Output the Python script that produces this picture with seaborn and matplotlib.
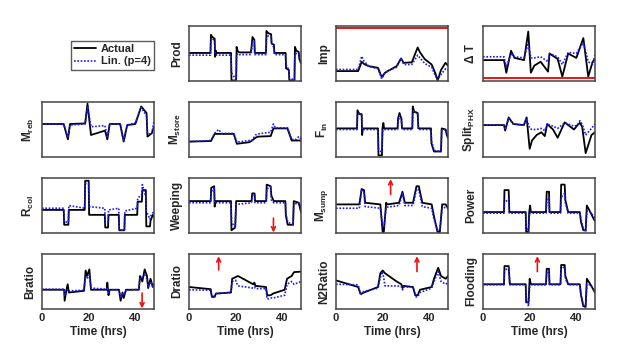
import matplotlib
matplotlib.use("Agg")
import matplotlib.pyplot as plt
import seaborn as sns
from matplotlib.lines import Line2D

# --- dados (eixo y normalizado 0..1, tempo em horas) ---
prod_t = [0, 9.2, 9.4, 10, 11.0, 11.2, 11.5, 11.8, 18.0, 18.2, 20.2, 20.4, 20.8, 21.5,
          26.5, 26.7, 27.2, 28.0, 28.2, 33.0, 33.2, 34.0, 35.2, 35.4, 36.4, 36.6,
          41.4, 41.6, 42.8, 43.0, 45.2, 45.4, 46, 47.0, 47.3, 48]
prod_act = [0.51, 0.51, 0.84, 0.8, 0.77, 0.44, 0.55, 0.51, 0.51, 0.01, 0.01, 0.62, 0.55, 0.52,
            0.52, 0.58, 0.8, 0.75, 0.51, 0.51, 0.91, 0.87, 0.85, 0.68, 0.66, 0.51,
            0.51, 0.23, 0.2, 0.01, 0.01, 0.62, 0.55, 0.53, 0.4, 0.32]
prod_lin = [0.47, 0.47, 0.75, 0.78, 0.72, 0.5, 0.5, 0.47, 0.47, 0.15, 0.02, 0.45, 0.5, 0.48,
            0.48, 0.52, 0.72, 0.72, 0.48, 0.48, 0.8, 0.82, 0.8, 0.7, 0.6, 0.48,
            0.48, 0.3, 0.2, 0.05, 0.02, 0.5, 0.5, 0.5, 0.42, 0.32]

imp_t = [0, 9.5, 11, 12, 14, 18, 19.6, 21, 23, 26, 27.9, 29, 32.5, 35, 36, 38, 41, 42.5, 43.6, 45, 46.9, 48]
imp_act = [0.18, 0.18, 0.35, 0.31, 0.27, 0.24, 0.07, 0.15, 0.2, 0.27, 0.41, 0.33, 0.34, 0.61, 0.52, 0.4, 0.3, 0.15, 0.01, 0.2, 0.33, 0.28]
imp_lin = [0.21, 0.21, 0.45, 0.36, 0.27, 0.22, 0.04, 0.15, 0.2, 0.25, 0.42, 0.3, 0.3, 0.47, 0.42, 0.32, 0.25, 0.1, 0.02, 0.12, 0.22, 0.2]

dt_t = [0, 9, 10, 12, 13.5, 17.6, 19.4, 20.5, 22, 24.7, 27.9, 28.5, 32, 34, 36.5, 40, 43, 45.1, 47, 48]
dt_act = [0.38, 0.38, 0.15, 0.55, 0.42, 0.38, 0.9, 0.15, 0.28, 0.35, 0.17, 0.5, 0.4, 0.08, 0.5, 0.42, 0.78, 0.08, 0.35, 0.4]
dt_lin = [0.44, 0.44, 0.25, 0.5, 0.44, 0.42, 0.68, 0.42, 0.42, 0.44, 0.35, 0.5, 0.44, 0.3, 0.52, 0.5, 0.7, 0.35, 0.3, 0.48]

mreb_t = [0, 9.3, 11.1, 12, 18.5, 19.5, 21, 27, 28, 29, 33.5, 35, 36.5, 40, 42.5, 44.8, 45.2, 47, 48]
mreb_act = [0.6, 0.6, 0.32, 0.6, 0.61, 0.97, 0.4, 0.48, 0.32, 0.6, 0.6, 0.28, 0.58, 0.6, 0.92, 0.8, 0.37, 0.43, 0.55]
mreb_lin = [0.6, 0.6, 0.35, 0.58, 0.6, 0.92, 0.55, 0.57, 0.35, 0.6, 0.6, 0.3, 0.58, 0.62, 0.9, 0.75, 0.42, 0.42, 0.65]

mstore_t = [0, 9.4, 11, 12.7, 14, 19.2, 20.5, 26, 27, 28.5, 29.5, 35, 36.2, 37, 42.2, 44, 46, 47, 48]
mstore_act = [0.28, 0.29, 0.42, 0.42, 0.42, 0.42, 0.24, 0.27, 0.3, 0.35, 0.37, 0.38, 0.52, 0.52, 0.52, 0.3, 0.3, 0.3, 0.3]
mstore_lin = [0.28, 0.3, 0.43, 0.5, 0.43, 0.43, 0.27, 0.3, 0.3, 0.4, 0.42, 0.45, 0.6, 0.53, 0.53, 0.32, 0.32, 0.37, 0.33]

fin_t = [0, 9.0, 9.2, 10, 11, 11.2, 11.5, 18, 18.2, 19.7, 19.9, 20.3, 20.6,
         26.4, 26.6, 27.2, 28, 28.3, 32.7, 32.9, 33.5, 35, 35.3,
         40.7, 40.9, 42, 45, 45.3, 47, 47.5, 48]
fin_act = [0.52, 0.52, 0.85, 0.78, 0.78, 0.4, 0.52, 0.52, 0.03, 0.03, 0.52, 0.62, 0.52,
           0.52, 0.7, 0.8, 0.7, 0.52, 0.52, 0.92, 0.82, 0.8, 0.52,
           0.52, 0.25, 0.1, 0.1, 0.52, 0.5, 0.4, 0.35]
fin_lin = [0.5, 0.5, 0.75, 0.8, 0.76, 0.5, 0.5, 0.5, 0.15, 0.08, 0.45, 0.5, 0.5,
           0.5, 0.62, 0.75, 0.72, 0.5, 0.5, 0.82, 0.85, 0.78, 0.5,
           0.5, 0.3, 0.12, 0.1, 0.48, 0.5, 0.45, 0.38]

split_t = [0, 9, 9.5, 11, 13, 17.5, 18.7, 20, 21, 23, 25, 26.5, 27.5, 30, 32, 35, 39, 40.5, 41.5, 42.5, 44, 46.5, 48]
split_act = [0.58, 0.58, 0.48, 0.72, 0.6, 0.58, 0.72, 0.15, 0.3, 0.4, 0.45, 0.38, 0.6, 0.5, 0.35, 0.63, 0.5, 0.58, 0.62, 0.55, 0.07, 0.4, 0.45]
split_lin = [0.58, 0.58, 0.5, 0.7, 0.6, 0.58, 0.7, 0.52, 0.5, 0.5, 0.52, 0.48, 0.6, 0.56, 0.52, 0.62, 0.56, 0.58, 0.66, 0.6, 0.4, 0.52, 0.6]

rcol_t = [0, 9.3, 9.5, 11.3, 11.5, 18.3, 18.5, 20, 20.2, 26.9, 27.1, 28.3, 28.5, 32.9, 33.1, 35.3, 35.5,
          40.8, 41, 42.8, 43, 44.5, 44.7, 46.3, 46.5, 47.5, 48]
rcol_act = [0.42, 0.42, 0.15, 0.15, 0.42, 0.42, 0.95, 0.95, 0.33, 0.33, 0.1, 0.1, 0.33, 0.33, 0.05, 0.05, 0.33,
            0.33, 0.57, 0.57, 0.78, 0.78, 0.12, 0.12, 0.22, 0.33, 0.3]
rcol_lin = [0.45, 0.45, 0.2, 0.2, 0.5, 0.45, 0.9, 0.9, 0.48, 0.45, 0.18, 0.2, 0.42, 0.45, 0.05, 0.05, 0.4,
            0.45, 0.63, 0.7, 0.88, 0.65, 0.4, 0.25, 0.3, 0.37, 0.37]

weep_t = [0, 9.3, 9.5, 10.8, 11, 11.3, 18, 18.2, 19.8, 20.2, 26.8, 27.1, 28.1, 28.3,
          33.1, 33.3, 35, 35.3, 36.3, 41.3, 41.5, 42.3, 44.6, 44.9, 47, 47.6, 48]
weep_act = [0.58, 0.58, 0.82, 0.85, 0.48, 0.58, 0.58, 0.05, 0.1, 0.58, 0.58, 0.72, 0.72, 0.58,
            0.58, 0.88, 0.85, 0.68, 0.58, 0.58, 0.32, 0.15, 0.15, 0.58, 0.55, 0.45, 0.38]
weep_lin = [0.55, 0.55, 0.75, 0.82, 0.55, 0.55, 0.55, 0.2, 0.1, 0.52, 0.55, 0.68, 0.7, 0.55,
            0.55, 0.8, 0.84, 0.6, 0.55, 0.55, 0.35, 0.2, 0.15, 0.52, 0.55, 0.5, 0.42]

msump_t = [0, 10, 11, 12, 12.5, 19, 20, 20.5, 21.5, 22, 27, 28.5, 29.5, 33, 34.5, 35.5, 37,
           41, 42, 43.5, 44.5, 45.5, 47, 48]
msump_act = [0.52, 0.52, 0.8, 0.78, 0.55, 0.52, 0.02, 0.02, 0.55, 0.52, 0.55, 0.75, 0.55, 0.55, 0.85, 0.85, 0.55,
             0.52, 0.3, 0.02, 0.02, 0.52, 0.52, 0.45]
msump_lin = [0.45, 0.45, 0.8, 0.72, 0.48, 0.45, 0.12, 0.1, 0.45, 0.47, 0.5, 0.72, 0.5, 0.5, 0.8, 0.78, 0.48,
             0.45, 0.25, 0.05, 0.05, 0.45, 0.47, 0.45]

power_t = [0, 9, 9.2, 11, 11.3, 18.3, 18.5, 19.5, 19.8, 20.2, 20.5, 27, 27.3, 28.3, 28.5,
           33.2, 33.5, 35, 35.3, 36.5, 41.5, 42, 43, 44, 44.5, 46, 47.5, 48]
power_act = [0.38, 0.38, 0.78, 0.78, 0.38, 0.38, 0.02, 0.02, 0.38, 0.5, 0.38, 0.38, 0.75, 0.75, 0.38,
             0.38, 0.88, 0.88, 0.6, 0.38, 0.38, 0.2, 0.05, 0.05, 0.5, 0.38, 0.25, 0.22]
power_lin = [0.36, 0.36, 0.55, 0.62, 0.36, 0.36, 0.1, 0.02, 0.3, 0.38, 0.36, 0.36, 0.55, 0.65, 0.36,
             0.36, 0.65, 0.72, 0.55, 0.36, 0.36, 0.25, 0.08, 0.02, 0.4, 0.38, 0.3, 0.28]

bratio_t = [0, 9.5, 9.7, 10.5, 11, 11.5, 18, 18.7, 19.3, 20.3, 21, 27.8, 28, 28.5, 29,
            33, 33.7, 34.5, 35, 36, 41.5, 42, 43, 44, 45, 45.5, 46.5, 47.5, 48]
bratio_act = [0.35, 0.35, 0.15, 0.35, 0.45, 0.3, 0.33, 0.7, 0.6, 0.72, 0.35, 0.35, 0.48, 0.25, 0.35,
              0.35, 0.15, 0.3, 0.2, 0.35, 0.35, 0.6, 0.5, 0.72, 0.6, 0.38, 0.55, 0.4, 0.45]
bratio_lin = [0.36, 0.36, 0.25, 0.3, 0.36, 0.33, 0.34, 0.6, 0.55, 0.62, 0.38, 0.36, 0.4, 0.3, 0.35,
              0.35, 0.2, 0.28, 0.25, 0.34, 0.36, 0.55, 0.58, 0.62, 0.55, 0.4, 0.5, 0.4, 0.45]

dratio_t = [0, 9.3, 9.8, 11, 11.5, 18, 18.5, 20, 21, 27.5, 28, 28.5, 33, 33.5, 35, 36, 41, 42, 44, 45, 48]
dratio_act = [0.4, 0.36, 0.22, 0.22, 0.28, 0.3, 0.55, 0.58, 0.6, 0.45, 0.48, 0.42, 0.4, 0.25, 0.25, 0.28, 0.35, 0.55, 0.6, 0.67, 0.68]
dratio_lin = [0.35, 0.34, 0.22, 0.24, 0.28, 0.3, 0.5, 0.52, 0.42, 0.38, 0.4, 0.37, 0.37, 0.18, 0.2, 0.2, 0.25, 0.45, 0.5, 0.45, 0.5]

n2_t = [0, 9.5, 10.5, 11, 12, 18, 19, 20, 21, 26, 28, 28.5, 29, 33, 34, 35, 36, 41, 42, 43.8, 45, 47, 48]
n2_act = [0.52, 0.4, 0.28, 0.28, 0.3, 0.4, 0.65, 0.7, 0.65, 0.5, 0.45, 0.38, 0.42, 0.4, 0.25, 0.25, 0.35, 0.4, 0.55, 0.75, 0.6, 0.55, 0.6]
n2_lin = [0.45, 0.44, 0.25, 0.28, 0.32, 0.38, 0.58, 0.68, 0.42, 0.42, 0.41, 0.35, 0.4, 0.4, 0.22, 0.22, 0.3, 0.38, 0.5, 0.68, 0.5, 0.45, 0.48]

flood_t = [0, 9, 9.2, 11, 11.5, 18.3, 18.5, 19.5, 20, 20.5, 27, 27.3, 28.3, 28.5,
           33.2, 33.5, 35, 35.3, 36.5, 41.5, 42, 43, 44, 44.5, 46, 48]
flood_act = [0.45, 0.45, 0.78, 0.78, 0.45, 0.45, 0.12, 0.12, 0.55, 0.45, 0.45, 0.73, 0.73, 0.45,
             0.45, 0.8, 0.8, 0.6, 0.45, 0.45, 0.25, 0.05, 0.05, 0.55, 0.45, 0.3]
flood_lin = [0.44, 0.44, 0.7, 0.75, 0.44, 0.44, 0.2, 0.05, 0.4, 0.44, 0.44, 0.65, 0.7, 0.44,
             0.44, 0.72, 0.78, 0.55, 0.44, 0.44, 0.25, 0.08, 0.02, 0.45, 0.44, 0.32]

# limites (linhas vermelhas) e setas vermelhas
limit_panels = ["Imp", "dT"]
limit_levels = [0.96, 0.055]
arrow_panels = ["Weeping", "Bratio", "Dratio", "Msump", "N2Ratio", "Flooding"]
arrow_time = [36.2, 42.9, 12.7, 23.4, 34.7, 23.3]
arrow_tail = [0.27, 0.29, 0.71, 0.70, 0.68, 0.68]
arrow_head = [0.01, 0.01, 0.96, 0.98, 0.96, 0.96]

# --- layout: (linha, coluna) -> (chave, rótulo, dados) ---
paineis = {
    (0, 1): ("Prod", "Prod", prod_t, prod_act, prod_lin),
    (0, 2): ("Imp", "Imp", imp_t, imp_act, imp_lin),
    (0, 3): ("dT", "Δ T", dt_t, dt_act, dt_lin),
    (1, 0): ("Mreb", r"$\mathbf{M}_{\mathbf{reb}}$", mreb_t, mreb_act, mreb_lin),
    (1, 1): ("Mstore", r"$\mathbf{M}_{\mathbf{store}}$", mstore_t, mstore_act, mstore_lin),
    (1, 2): ("Fin", r"$\mathbf{F}_{\mathbf{in}}$", fin_t, fin_act, fin_lin),
    (1, 3): ("Split", r"$\mathbf{Split}_{\mathbf{PHX}}$", split_t, split_act, split_lin),
    (2, 0): ("Rcol", r"$\mathbf{R}_{\mathbf{col}}$", rcol_t, rcol_act, rcol_lin),
    (2, 1): ("Weeping", "Weeping", weep_t, weep_act, weep_lin),
    (2, 2): ("Msump", r"$\mathbf{M}_{\mathbf{sump}}$", msump_t, msump_act, msump_lin),
    (2, 3): ("Power", "Power", power_t, power_act, power_lin),
    (3, 0): ("Bratio", "Bratio", bratio_t, bratio_act, bratio_lin),
    (3, 1): ("Dratio", "Dratio", dratio_t, dratio_act, dratio_lin),
    (3, 2): ("N2Ratio", "N2Ratio", n2_t, n2_act, n2_lin),
    (3, 3): ("Flooding", "Flooding", flood_t, flood_act, flood_lin),
}

sns.set_style("white")
plt.rcParams["font.family"] = ["Liberation Sans", "DejaVu Sans"]
plt.rcParams["font.weight"] = "bold"
plt.rcParams["axes.labelweight"] = "bold"
plt.rcParams["mathtext.fontset"] = "custom"
plt.rcParams["mathtext.rm"] = "Liberation Sans"
plt.rcParams["mathtext.bf"] = "Liberation Sans:bold"

fig = plt.figure(figsize=(6.28, 3.49), dpi=100)

W, H = 628, 349
col_x = [42, 189, 336, 483]
row_y = [26, 102, 178, 254]
aw, ah = 112, 55
azul = "#1a1aff"

for r in range(4):
    for c in range(4):
        ax = fig.add_axes([col_x[c] / W, 1 - (row_y[r] + ah) / H, aw / W, ah / H])
        if (r, c) == (0, 0):
            ax.axis("off")
            handles = [Line2D([], [], color="black", lw=1.3),
                       Line2D([], [], color=azul, lw=1.2, dashes=(1, 1))]
            leg = ax.legend(handles, ["Actual", "Lin. (p=4)"], loc="upper right",
                            bbox_to_anchor=(1.0, 0.73), borderaxespad=0, fancybox=False,
                            frameon=True, edgecolor="#333333", fontsize=8,
                            handlelength=2.0, handletextpad=0.4, borderpad=0.3,
                            labelspacing=0.2)
            leg.get_frame().set_linewidth(1.0)
            continue

        chave, rotulo, t, act, lin = paineis[(r, c)]
        sns.lineplot(x=t, y=act, ax=ax, color="black", lw=1.3,
                     estimator=None, sort=False)
        sns.lineplot(x=t, y=lin, ax=ax, color=azul, lw=1.2, dashes=False,
                     estimator=None, sort=False)
        ax.lines[-1].set_dashes((1, 1))

        if chave in limit_panels:
            nivel = limit_levels[limit_panels.index(chave)]
            ax.axhline(nivel, color="#ee1111", lw=1.4)
        if chave in arrow_panels:
            i = arrow_panels.index(chave)
            ax.annotate("", xy=(arrow_time[i], arrow_head[i]),
                        xytext=(arrow_time[i], arrow_tail[i]),
                        arrowprops=dict(arrowstyle="->", color="#ee1111", lw=1.2,
                                        shrinkA=0, shrinkB=0, mutation_scale=7))

        ax.set_xlim(0, 48)
        ax.set_ylim(0, 1)
        ax.set_yticks([])
        ax.set_xticks([0, 20, 40])
        ax.tick_params(axis="x", direction="in", length=2, width=0.8,
                       labelsize=8, pad=3, colors="#262626")
        ax.set_ylabel(rotulo, fontsize=8.5, fontweight="bold", labelpad=4)
        if r == 3:
            ax.set_xlabel("Time (hrs)", fontsize=8.5, fontweight="bold", labelpad=2)
            for lab in ax.get_xticklabels():
                lab.set_fontweight("bold")
        else:
            ax.set_xticklabels([])
        for s in ax.spines.values():
            s.set_color("#444444")
            s.set_linewidth(1.1)

fig.savefig("out.png", dpi=100)
